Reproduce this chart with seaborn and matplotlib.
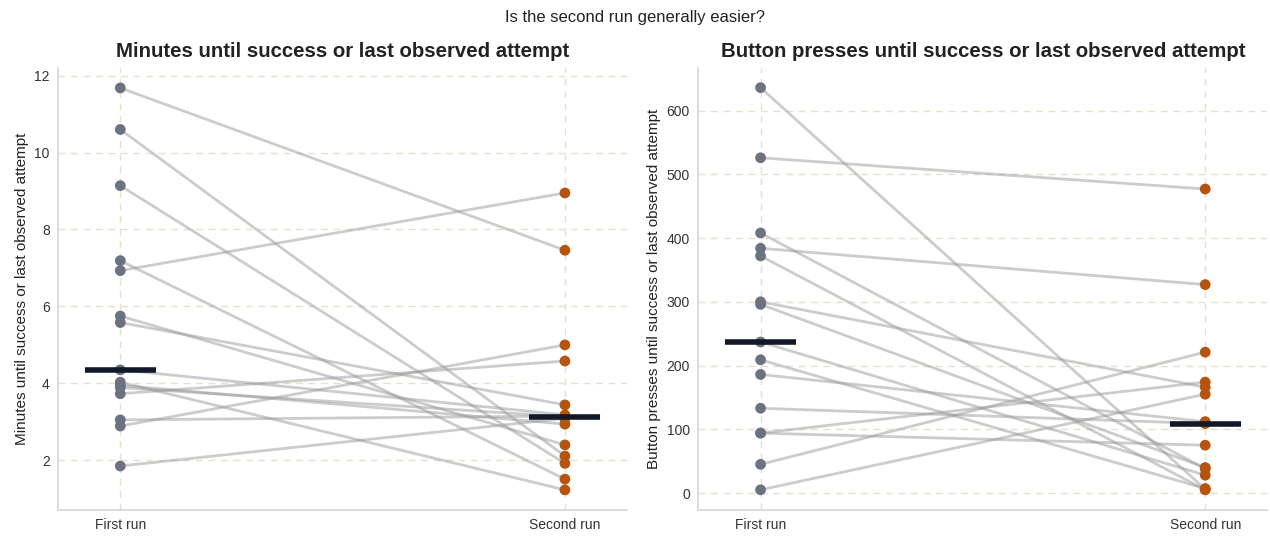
import numpy as np
import pandas as pd
import matplotlib
matplotlib.use("Agg")
import matplotlib.pyplot as plt
import seaborn as sns

# Paired observations: each index is one participant (first run -> second run)
minutes_first = [11.68, 10.60, 9.14, 7.19, 6.93, 5.75, 5.58, 4.35, 4.03, 3.95, 3.89, 3.73, 3.05, 2.89, 1.85]
minutes_second = [7.46, 2.11, 1.92, 1.51, 8.95, 2.40, 3.44, 3.18, 1.23, 2.94, 3.13, 4.58, 3.15, 5.00, 3.09]

presses_first = [636, 526, 408, 384, 372, 300, 296, 237, 209, 186, 133, 94, 94, 45, 5]
presses_second = [6, 477, 38, 327, 5, 166, 40, 28, 7, 112, 109, 174, 75, 221, 155]

run_labels = ["First run", "Second run"]
suptitle = "Is the second run generally easier?"
panel_titles = ["Minutes until success or last observed attempt",
                "Button presses until success or last observed attempt"]

sns.set_theme(style="whitegrid")
plt.rcParams["font.family"] = ["Liberation Sans", "DejaVu Sans"]

GRID = "#eadfcc"
SPINE = "#d4d4de"
FIRST_C = "#6b7280"
SECOND_C = "#b5540f"
MEDIAN_C = "#111827"


def long_frame(first, second):
    n = len(first)
    return pd.DataFrame({
        "pair": list(range(n)) * 2,
        "pos": [0] * n + [1] * n,
        "run": [run_labels[0]] * n + [run_labels[1]] * n,
        "value": list(first) + list(second),
    })


fig, axes = plt.subplots(1, 2, figsize=(12.7, 5.39), dpi=100)
fig.subplots_adjust(left=0.0457, right=0.998, bottom=0.054, top=0.874, wspace=0.125)

for ax, (first, second), title in zip(
        axes, [(minutes_first, minutes_second), (presses_first, presses_second)], panel_titles):
    df = long_frame(first, second)
    sns.lineplot(data=df, x="pos", y="value", units="pair", estimator=None,
                 color="#9a9a9a", alpha=0.5, linewidth=2, ax=ax, legend=False, zorder=2)
    sns.scatterplot(data=df, x="pos", y="value", hue="run",
                    palette={run_labels[0]: FIRST_C, run_labels[1]: SECOND_C},
                    s=60, edgecolor="none", ax=ax, legend=False, zorder=3)
    for pos, vals in enumerate([first, second]):
        med = float(np.median(vals))
        ax.hlines(med, pos - 0.08, pos + 0.08, color=MEDIAN_C, linewidth=4, zorder=4)

    ax.set_xlim(-0.14, 1.14)
    ax.set_xticks([0, 1])
    ax.set_xticklabels(run_labels)
    ax.set_xlabel("")
    ax.set_ylabel(title, fontsize=11, color="#222222")
    ax.set_title(title, fontsize=14.7, fontweight="bold", color="#222222", pad=8)
    ax.grid(True, color=GRID, linestyle=(0, (5, 4)), linewidth=1)
    ax.tick_params(axis="both", labelsize=10, colors="#333333", length=0, pad=6)
    sns.despine(ax=ax)
    for side in ("left", "bottom"):
        ax.spines[side].set_color(SPINE)
        ax.spines[side].set_linewidth(1.2)

axes[0].set_ylim(0.71, 12.2)
axes[0].set_yticks([2, 4, 6, 8, 10, 12])
axes[1].set_ylim(-26.5, 667)
axes[1].set_yticks([0, 100, 200, 300, 400, 500, 600])

fig.suptitle(suptitle, fontsize=12, color="#222222", y=0.982)
fig.savefig("out.png", dpi=100)
